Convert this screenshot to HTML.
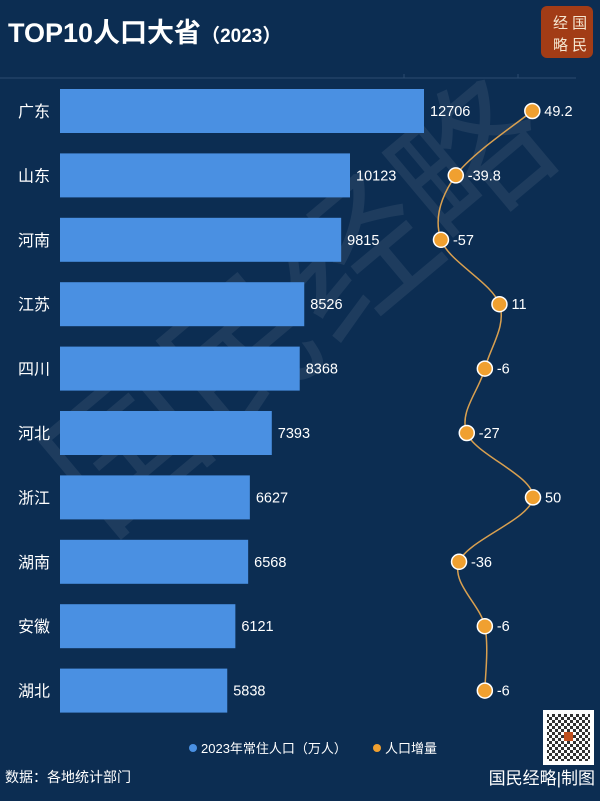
<!DOCTYPE html>
<html><head><meta charset="utf-8">
<style>
html,body{margin:0;padding:0;background:#0c2d52;}
body{width:600px;height:796px;overflow:hidden;font-family:"Liberation Sans","Noto Sans CJK SC",sans-serif;}
svg text{font-family:"Liberation Sans","Noto Sans CJK SC",sans-serif;}
</style></head>
<body>
<svg id="chart" width="600" height="796" viewBox="0 0 600 796">
<rect x="0" y="0" width="600" height="796" fill="#0c2d52"/>
<g opacity="0.07" fill="#ffffff">
<text x="60" y="380" font-size="150" transform="rotate(-40 300 400)" font-family="Noto Serif CJK SC, serif">国民经略</text>
</g>
<text x="8" y="42" font-size="27" font-weight="bold" fill="#ffffff">TOP10人口大省<tspan font-size="19">（2023）</tspan></text>
<rect x="541" y="6" width="52" height="52" rx="6" fill="#a23c16"/>
<text x="553" y="28" font-size="15" fill="#f5e6d0" font-family="Noto Serif CJK SC, serif">经 国</text>
<text x="553" y="50" font-size="15" fill="#f5e6d0" font-family="Noto Serif CJK SC, serif">略 民</text>
<g stroke="#2c4c70" stroke-width="1">
<line x1="0" y1="78" x2="576" y2="78"/>
<line x1="404" y1="74" x2="404" y2="78"/>
<line x1="518" y1="74" x2="518" y2="78"/>
</g>
<g id="bars"></g>
<g id="line"></g>
<g>
<circle cx="193" cy="748" r="4" fill="#4a90e2"/>
<text x="201" y="753" font-size="13" fill="#ffffff">2023年常住人口（万人）</text>
<circle cx="377" cy="748" r="4" fill="#f0a030"/>
<text x="385" y="753" font-size="13" fill="#ffffff">人口增量</text>
</g>
<text x="5" y="782" font-size="14" fill="#ffffff">数据：各地统计部门</text>
<text x="595" y="784" font-size="17" fill="#ffffff" text-anchor="end" font-family="Noto Serif CJK SC, serif">国民经略|制图</text>
<g>
<rect x="543" y="710" width="51" height="55" fill="#ffffff"/>
<pattern id="qr" width="6" height="6" patternUnits="userSpaceOnUse"><rect width="6" height="6" fill="#fff"/><rect width="3" height="3" fill="#333"/><rect x="3" y="3" width="3" height="3" fill="#333"/></pattern>
<rect x="547" y="714" width="43" height="47" fill="url(#qr)"/>
<rect x="564" y="732" width="9" height="9" fill="#c05020"/>
</g>
</svg>
<script>
const provinces=["广东","山东","河南","江苏","四川","河北","浙江","湖南","安徽","湖北"];
const population=[12706,10123,9815,8526,8368,7393,6627,6568,6121,5838];
const change=[49.2,-39.8,-57,11,-6,-27,50,-36,-6,-6];
const NS="http://www.w3.org/2000/svg";
const x0=60, popScale=364/12706;
function xPop(v){return x0+v*popScale;}
function yRow(i){return 111+i*64.4;}
function xChg(v){return 490+v*0.86;}
const bars=document.getElementById('bars'), line=document.getElementById('line');
function mk(tag,attrs,parent){const e=document.createElementNS(NS,tag);for(const k in attrs)e.setAttribute(k,attrs[k]);parent.appendChild(e);return e;}
provinces.forEach((p,i)=>{
  const y=yRow(i);
  const lab=mk('text',{x:18,y:y+6,'font-size':16,fill:'#ffffff'},bars);lab.textContent=p;
  
  
  const r=mk('rect',{x:x0,y:y-22,width:xPop(population[i])-x0,height:44,fill:'#4a90e2'},bars);
  
  
  const v=mk('text',{x:xPop(population[i])+6,y:y+5,'font-size':14.5,fill:'#ffffff'},bars);v.textContent=population[i];
  
  
});
const pts=change.map((c,i)=>[xChg(c),yRow(i)]);
let d='M'+pts[0][0]+','+pts[0][1];
for(let i=0;i<pts.length-1;i++){
  const p0=pts[i-1]||pts[i],p1=pts[i],p2=pts[i+1],p3=pts[i+2]||p2;
  const c1=[p1[0]+(p2[0]-p0[0])/6,p1[1]+(p2[1]-p0[1])/6];
  const c2=[p2[0]-(p3[0]-p1[0])/6,p2[1]-(p3[1]-p1[1])/6];
  d+=' C'+c1+' '+c2+' '+p2;
}
const path=mk('path',{d:d,fill:'none',stroke:'#d9a050','stroke-width':1.5},line);


pts.forEach((p,i)=>{
  const c=mk('circle',{cx:p[0],cy:p[1],r:7.5,fill:'#f0a030',stroke:'#ffffff','stroke-width':1.5},line);
  
  
  const t=mk('text',{x:p[0]+12,y:p[1]+5,'font-size':14.5,fill:'#ffffff'},line);t.textContent=change[i];
  
  
});
</script>
</body></html>
